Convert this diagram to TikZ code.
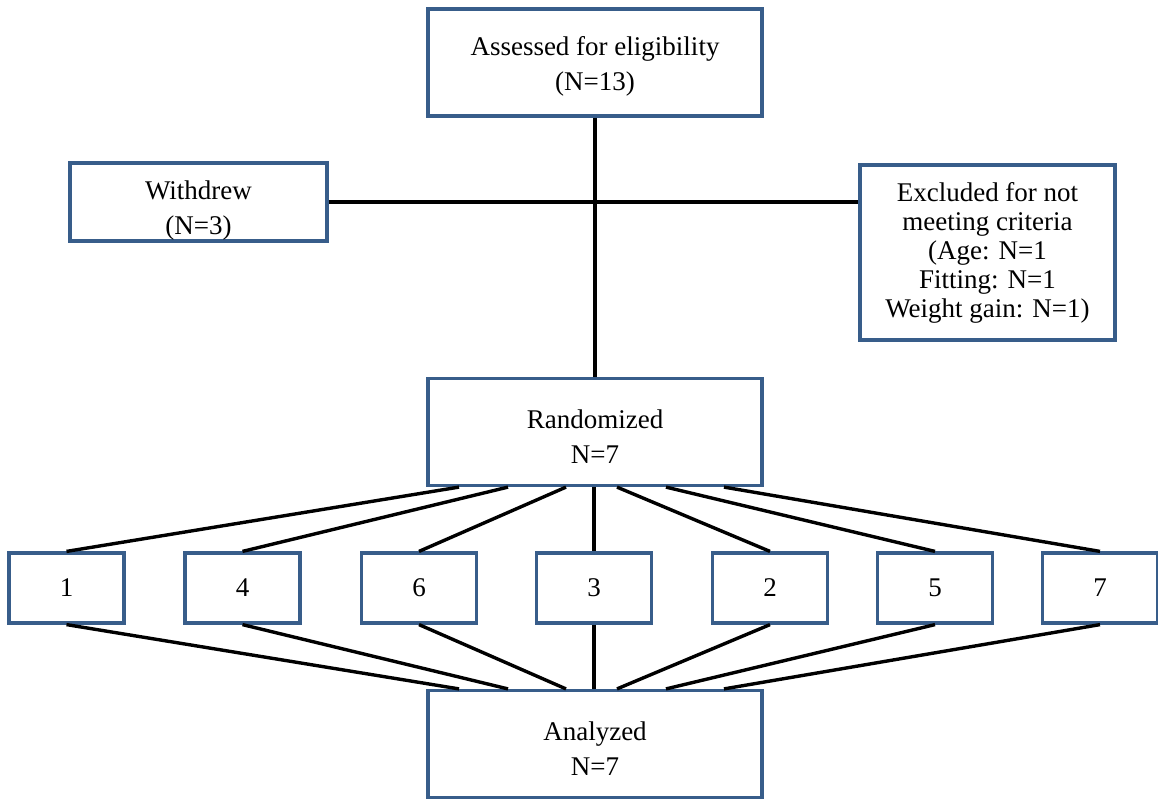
\documentclass[tikz,border=0pt]{standalone}
\usepackage{fontspec}
\setmainfont{Liberation Serif}
\usepackage{xcolor}
\usetikzlibrary{calc}
\definecolor{boxBlue}{HTML}{385D8A}
\newcommand{\topGap}[1]{\rule{0pt}{#1}}

\begin{document}
\begin{tikzpicture}[x=0.5pt,y=-0.5pt,
box/.style={draw=boxBlue,line width=1.6pt,fill=white,align=center,inner sep=0pt,
  font=\fontsize{13.5}{17.5}\selectfont},
bigBox/.style={box,minimum width=167pt,minimum height=53.5pt},
armBox/.style={box,minimum width=57.5pt,minimum height=35pt},
link/.style={line width=1.7pt,black}]
\useasboundingbox (0,0) rectangle (1158,799);

\node[bigBox] (assessed) at (595,62.5) {\topGap{13.5pt}Assessed for eligibility\\(N=13)};
\node[box,minimum width=128.5pt,minimum height=39pt] (withdrew) at (198.5,202) {\topGap{18pt}Withdrew\\(N=3)};
\node[box,minimum width=127.5pt,minimum height=87.5pt,font=\fontsize{13.5}{14.5}\selectfont] (excluded) at (987.5,252.5)
  {Excluded for not\\meeting criteria\\(Age: N=1\\Fitting: N=1\\Weight gain: N=1)};
\node[bigBox] (randomized) at (595,432) {\topGap{13.5pt}Randomized\\N=7};

\node[armBox] (g1) at (66.5,588) {1};
\node[armBox] (g4) at (242.5,588) {4};
\node[armBox] (g6) at (419,588) {6};
\node[armBox] (g3) at (594,588) {3};
\node[armBox] (g2) at (770,588) {2};
\node[armBox] (g5) at (935,588) {5};
\node[armBox] (g7) at (1100,588) {7};

\node[bigBox] (analyzed) at (595,744) {\topGap{13.5pt}Analyzed\\N=7};

\draw[link] (assessed) -- (randomized);
\draw[link] (withdrew.east) -- (withdrew.east -| excluded.west);

\draw[link] ($(randomized.south)+(-136,0)$) -- (g1.north);
\draw[link] ($(randomized.south)+(-87,0)$) -- (g4.north);
\draw[link] ($(randomized.south)+(-29,0)$) -- (g6.north);
\draw[link] (randomized.south -| g3.north) -- (g3.north);
\draw[link] ($(randomized.south)+(22,0)$) -- (g2.north);
\draw[link] ($(randomized.south)+(71,0)$) -- (g5.north);
\draw[link] ($(randomized.south)+(129,0)$) -- (g7.north);

\draw[link] (g1.south) -- ($(analyzed.north)+(-136,0)$);
\draw[link] (g4.south) -- ($(analyzed.north)+(-87,0)$);
\draw[link] (g6.south) -- ($(analyzed.north)+(-29,0)$);
\draw[link] (g3.south) -- (g3.south |- analyzed.north);
\draw[link] (g2.south) -- ($(analyzed.north)+(22,0)$);
\draw[link] (g5.south) -- ($(analyzed.north)+(71,0)$);
\draw[link] (g7.south) -- ($(analyzed.north)+(129,0)$);
\end{tikzpicture}
\end{document}
